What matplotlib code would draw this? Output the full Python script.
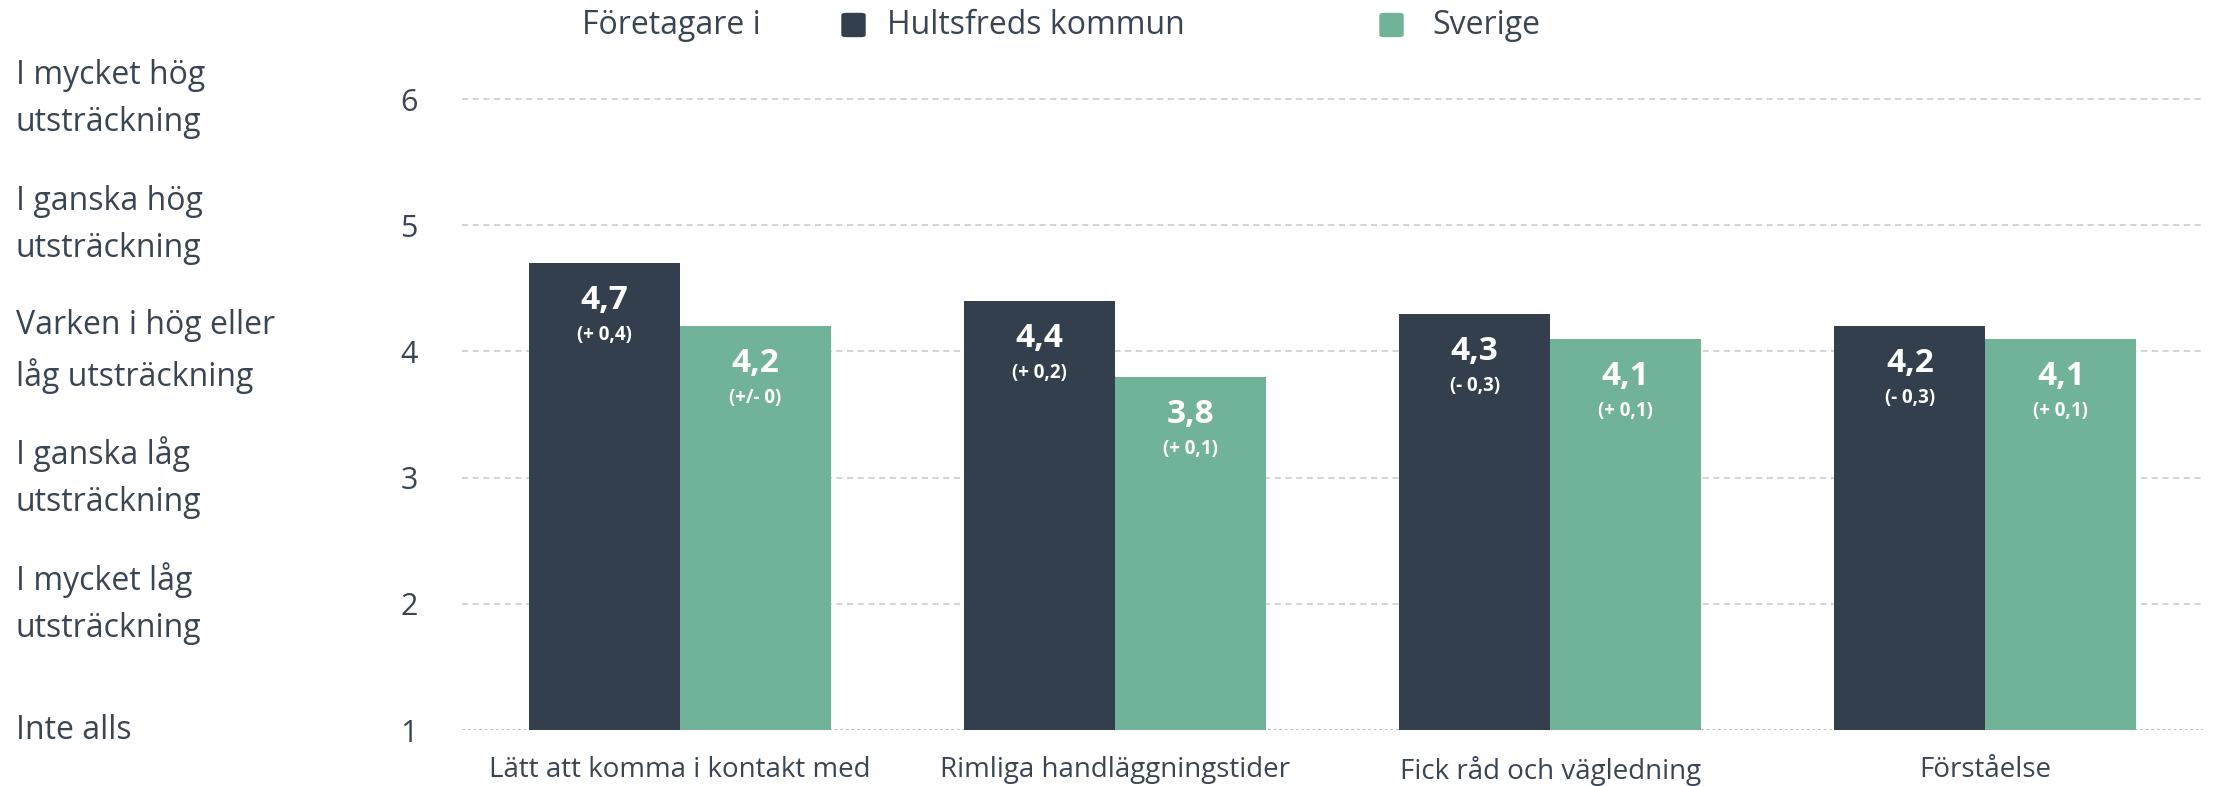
import matplotlib.pyplot as plt
from matplotlib.patches import FancyBboxPatch
import numpy as np

categories = ['Lätt att komma i kontakt med', 'Rimliga handläggningstider',
              'Fick råd och vägledning', 'Förståelse']
hultsfred = [4.7, 4.4, 4.3, 4.2]
sverige = [4.2, 3.8, 4.1, 4.1]
hultsfred_diff = ['(+ 0,4)', '(+ 0,2)', '(- 0,3)', '(- 0,3)']
sverige_diff = ['(+/- 0)', '(+ 0,1)', '(+ 0,1)', '(+ 0,1)']
scale_ticks = [1, 2, 3, 4, 5, 6]
scale_labels = ['Inte alls', 'I mycket låg\nutsträckning', 'I ganska låg\nutsträckning',
                'Varken i hög eller\nlåg utsträckning', 'I ganska hög\nutsträckning',
                'I mycket hög\nutsträckning']

DARK = '#333f4d'
GREEN = '#71b398'
TEXT = '#3a4553'
FONT = 'Open Sans'

fig = plt.figure(figsize=(22.14, 7.86), dpi=100)
ax = fig.add_axes([0.2087, 0.0712, 0.995 - 0.2087, 0.874 - 0.0712])

x = np.arange(len(categories))
w = 0.347
b1 = ax.bar(x - w / 2, np.array(hultsfred) - 1, w, bottom=1, color=DARK, zorder=3)
b2 = ax.bar(x + w / 2, np.array(sverige) - 1, w, bottom=1, color=GREEN, zorder=3)

for bars, vals, diffs in [(b1, hultsfred, hultsfred_diff), (b2, sverige, sverige_diff)]:
    for bar, v, d in zip(bars, vals, diffs):
        cx = bar.get_x() + bar.get_width() / 2
        ax.annotate(f'{v:.1f}'.replace('.', ','), (cx, v), xytext=(0, -27), textcoords='offset points',
                    ha='center', va='center', color='white', fontsize=24, fontweight='bold',
                    family=FONT, zorder=4)
        ax.annotate(d, (cx, v), xytext=(0, -52), textcoords='offset points',
                    ha='center', va='center', color='white', fontsize=13.5, fontweight='bold',
                    family=FONT, zorder=4)

ax.set_xlim(-0.5, 3.5)
ax.set_ylim(1, 6)
ax.set_yticks(scale_ticks)
ax.set_yticklabels([str(t) for t in scale_ticks], fontsize=22, color=TEXT, family=FONT)
ax.tick_params(axis='y', length=0, pad=32)
ax.set_xticks(x)
ax.set_xticklabels(categories, fontsize=20, color=TEXT, family=FONT)
ax.tick_params(axis='x', length=0, pad=19)

for t in scale_ticks[1:]:
    ax.axhline(t, color='#c8c8c8', lw=1.1, ls=(0, (4, 3)), zorder=1, clip_on=False)
ax.axhline(1, color='#b5b5b5', lw=2, ls=(0, (1, 1)), zorder=2)
for s in ax.spines.values():
    s.set_visible(False)

for t, lab in zip(scale_ticks, scale_labels):
    ax.annotate(lab, xy=(0, t), xycoords=('figure fraction', 'data'), xytext=(11.5, 0),
                textcoords='offset points', ha='left', va='center', fontsize=23,
                color=TEXT, family=FONT, linespacing=1.55)

# legend
ly = 1 - 25 / 786
fig.text(582 / 2214, ly, 'Företagare i', fontsize=23, color=TEXT, family=FONT, va='center')
sq = 23
for left, col, lab, tx in [(842, DARK, 'Hultsfreds kommun', 887), (1380, GREEN, 'Sverige', 1432)]:
    fig.patches.append(FancyBboxPatch((left / 2214, ly - sq / 2 / 786), sq / 2214, sq / 786,
                                      boxstyle='round,pad=0,rounding_size=0.002',
                                      transform=fig.transFigure, color=col))
    fig.text(tx / 2214, ly, lab, fontsize=23, color=TEXT, family=FONT, va='center')

fig.savefig('out.png', dpi=100)
